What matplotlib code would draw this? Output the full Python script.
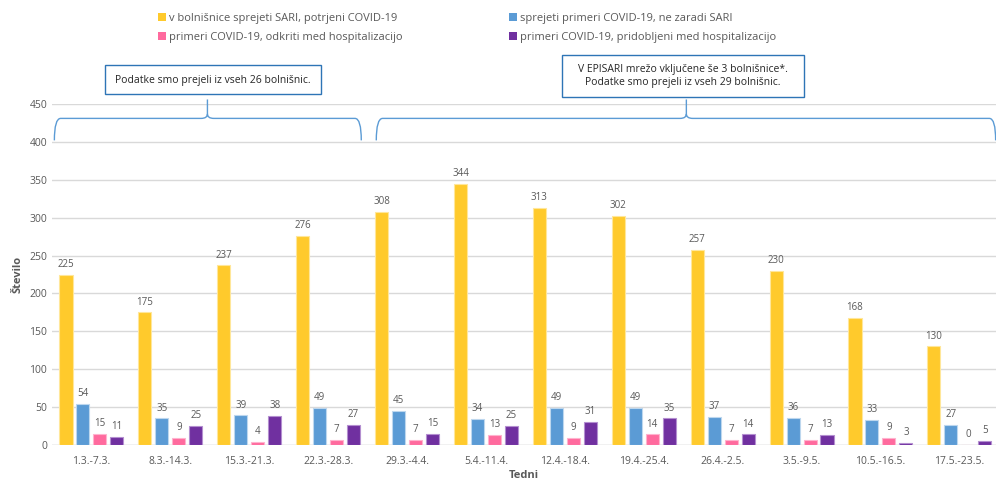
import matplotlib
matplotlib.use('Agg')
import matplotlib.pyplot as plt
from matplotlib.path import Path
from matplotlib.patches import PathPatch, Patch
import numpy as np

plt.rcParams['font.family'] = ['Liberation Sans Narrow', 'Open Sans', 'DejaVu Sans']

# podatki
tedni = ['1.3.-7.3.', '8.3.-14.3.', '15.3.-21.3.', '22.3.-28.3.', '29.3.-4.4.',
         '5.4.-11.4.', '12.4.-18.4.', '19.4.-25.4.', '26.4.-2.5.', '3.5.-9.5.',
         '10.5.-16.5.', '17.5.-23.5.']
sari_covid = [225, 175, 237, 276, 308, 344, 313, 302, 257, 230, 168, 130]
covid_ne_sari = [54, 35, 39, 49, 45, 34, 49, 49, 37, 36, 33, 27]
covid_odkriti = [15, 9, 4, 7, 7, 13, 9, 14, 7, 7, 9, 0]
covid_pridobljeni = [11, 25, 38, 27, 15, 25, 31, 35, 14, 13, 3, 5]

oznake = ['v bolnišnice sprejeti SARI, potrjeni COVID-19',
          'sprejeti primeri COVID-19, ne zaradi SARI',
          'primeri COVID-19, odkriti med hospitalizacijo',
          'primeri COVID-19, pridobljeni med hospitalizacijo']
barve = ['#FFCA2C', '#5B9BD5', '#FF6A9E', '#7030A0']
robovi = ['#FFE79A', '#BDD7EE', '#FFB3CE', '#B48FD0']

opomba1 = 'Podatke smo prejeli iz vseh 26 bolnišnic.'
opomba2 = 'V EPISARI mrežo vključene še 3 bolnišnice*.\nPodatke smo prejeli iz vseh 29 bolnišnic.'

siva = '#595959'

fig = plt.figure(figsize=(9.96, 4.79), dpi=100)
ax = fig.add_axes([52/996, 34/479, (996-52)/996, 341/479])

x = np.arange(len(tedni))
sirina = 0.165
korak = 0.215
serije = [sari_covid, covid_ne_sari, covid_odkriti, covid_pridobljeni]
for i, vals in enumerate(serije):
    pos = x + (i - 1.5) * korak
    ax.bar(pos, vals, sirina, color=barve[i], edgecolor=robovi[i], linewidth=0.8, zorder=3)
    for xp, v in zip(pos, vals):
        ax.annotate(str(v), (xp, v), xytext=(0, 3.5), textcoords='offset points',
                    ha='center', va='bottom', fontsize=7, color=siva)

ax.set_xlim(-0.5, -0.5 + 944/78.9)
ax.set_ylim(0, 450)
ax.set_yticks(range(0, 451, 50))
ax.set_xticks(x)
ax.set_xticklabels(tedni)
ax.tick_params(axis='both', length=0, labelsize=7.5, labelcolor=siva)
ax.tick_params(axis='x', pad=8)
ax.grid(axis='y', color='#D9D9D9', linewidth=1, zorder=0)
for s in ax.spines.values():
    s.set_visible(False)
ax.axhline(0, color='#D9D9D9', linewidth=1, zorder=1)

ax.set_ylabel('Število', fontsize=8, fontweight='bold', color=siva, labelpad=4)
ax.set_xlabel('Tedni', fontsize=8, fontweight='bold', color=siva, labelpad=2)


def zaviti_oklepaj(x0, x1, xm, y_konec, y_h, y_vrh, rx=0.08, dy=6):
    verts = [(x0, y_konec), (x0, y_h), (x0 + rx, y_h),
             (xm - rx, y_h), (xm, y_h), (xm, y_h + dy), (xm, y_vrh),
             (xm, y_h + dy), (xm, y_h), (xm + rx, y_h),
             (x1 - rx, y_h), (x1, y_h), (x1, y_konec)]
    codes = [Path.MOVETO, Path.CURVE3, Path.CURVE3,
             Path.LINETO, Path.CURVE3, Path.CURVE3, Path.LINETO,
             Path.MOVETO, Path.CURVE3, Path.CURVE3,
             Path.LINETO, Path.CURVE3, Path.CURVE3]
    p = PathPatch(Path(verts, codes), facecolor='none', edgecolor='#5B9BD5',
                  linewidth=1, clip_on=False, zorder=4)
    ax.add_patch(p)


zaviti_oklepaj(-0.47, 3.42, 1.47, 402, 431, 456)
zaviti_oklepaj(3.61, 11.46, 7.54, 402, 431, 456)

ax.add_patch(plt.Rectangle((105/996, 1 - 94/479), 216/996, 29/479, transform=fig.transFigure,
                           facecolor='white', edgecolor='#2E75B6', linewidth=1, clip_on=False))
ax.add_patch(plt.Rectangle((562/996, 1 - 97/479), 242/996, 42/479, transform=fig.transFigure,
                           facecolor='white', edgecolor='#2E75B6', linewidth=1, clip_on=False))
fig.text(213/996, 1 - 80/479, opomba1, ha='center', va='center', fontsize=7.5,
         color='#262626')
fig.text(683/996, 1 - 76/479, opomba2, ha='center', va='center', fontsize=7.5,
         color='#262626', linespacing=1.3)

rocaji = [Patch(facecolor=barve[i], edgecolor='none') for i in range(4)]
red = [0, 2, 1, 3]
fig.legend([rocaji[i] for i in red], [oznake[i] for i in red], ncol=2,
           loc='upper left', bbox_to_anchor=(148/996, 1 - 3/479), frameon=False,
           fontsize=8, labelcolor=siva, handlelength=0.7, handleheight=0.7,
           handletextpad=0.3, columnspacing=9.6, labelspacing=0.7)

fig.savefig('out.png', dpi=100)
